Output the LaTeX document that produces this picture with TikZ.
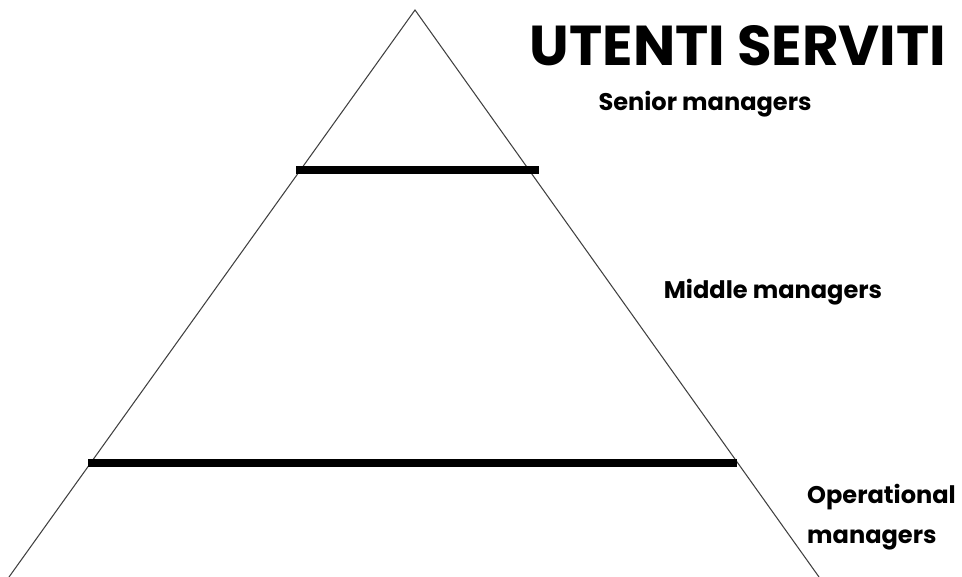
\documentclass[tikz,border=0pt]{standalone}
\usepackage{fontspec}
\setmainfont{Poppins}
\usepackage{tikz}
\usetikzlibrary{positioning}

\begin{document}
\begin{tikzpicture}[
        x=0.02cm, y=-0.02cm,
        edge/.style={draw=black!75, line width=0.6pt},
        level/.style={draw=black, line width=4.3pt},
        title/.style={font=\fontsize{32}{36}\selectfont\bfseries},
        label/.style={font=\fontsize{13.7}{16}\selectfont\bfseries}
    ]
    \useasboundingbox (0,0) rectangle (962,577);

    % Piramide
    \coordinate (apex) at (415,10);
    \coordinate (baseL) at (9,577);
    \coordinate (baseR) at (819,577);
    \draw[edge] (baseL) -- (apex) -- (baseR);

    % Livelli
    \coordinate (top L) at (296,170);
    \coordinate (top R) at (539,170);
    \coordinate (low L) at (88,463);
    \coordinate (low R) at (737,463);
    \draw[level] (top L) -- (top R);
    \draw[level] (low L) -- (low R);

    % Testi
    \node[title] (titolo) at (738,46) {UTENTI SERVITI};
    \node[label] (senior) at (705,104) {Senior managers};
    \node[label] (middle) at (773,292) {Middle managers};
    \node[label, anchor=west] (oper) at (801,497) {Operational};
    \node[label, anchor=west] (oper2) at (801,540) {managers};

\end{tikzpicture}
\end{document}
